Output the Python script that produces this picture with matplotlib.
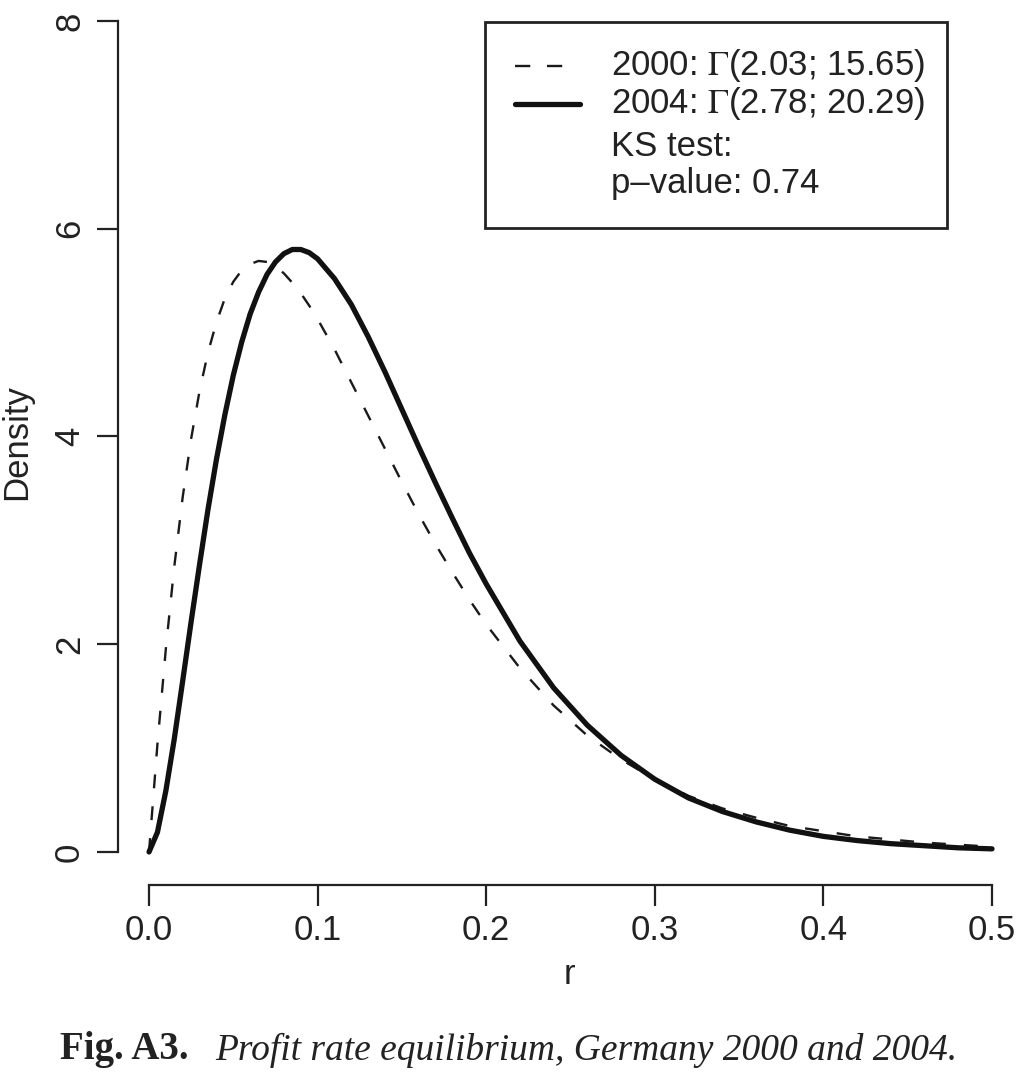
import numpy as np
import matplotlib.pyplot as plt

plt.rcParams['font.family'] = ['Liberation Sans', 'DejaVu Sans']
plt.rcParams['mathtext.fontset'] = 'stix'
plt.rcParams['lines.scale_dashes'] = False

# profit rate grid and densities
r = [0.0, 0.005, 0.01, 0.015, 0.02, 0.025, 0.03, 0.035, 0.04, 0.045, 0.05, 0.055,
     0.06, 0.065, 0.07, 0.075, 0.08, 0.085, 0.09, 0.095, 0.10, 0.11, 0.12, 0.13,
     0.14, 0.15, 0.16, 0.17, 0.18, 0.19, 0.20, 0.22, 0.24, 0.26, 0.28, 0.30,
     0.32, 0.34, 0.36, 0.38, 0.40, 0.42, 0.44, 0.46, 0.48, 0.50]
dens_2000 = [0.0, 1.04, 1.96, 2.75, 3.42, 3.98, 4.44, 4.81, 5.10, 5.33, 5.49, 5.60,
             5.66, 5.69, 5.68, 5.64, 5.57, 5.48, 5.38, 5.26, 5.13, 4.84, 4.52, 4.20,
             3.88, 3.56, 3.25, 2.96, 2.69, 2.43, 2.19, 1.77, 1.41, 1.12, 0.89, 0.70,
             0.54, 0.42, 0.33, 0.25, 0.20, 0.15, 0.12, 0.09, 0.07, 0.05]
dens_2004 = [0.0, 0.19, 0.59, 1.09, 1.65, 2.22, 2.77, 3.30, 3.78, 4.21, 4.59, 4.91,
             5.18, 5.39, 5.56, 5.68, 5.76, 5.80, 5.80, 5.77, 5.71, 5.52, 5.27, 4.96,
             4.62, 4.26, 3.90, 3.55, 3.21, 2.88, 2.58, 2.03, 1.58, 1.22, 0.93, 0.70,
             0.52, 0.39, 0.29, 0.21, 0.15, 0.11, 0.08, 0.06, 0.04, 0.03]

x_ticks = [0.0, 0.1, 0.2, 0.3, 0.4, 0.5]
y_ticks = [0, 2, 4, 6, 8]

fig = plt.figure(figsize=(10.21, 10.8), dpi=100)
ax = fig.add_axes([118/1021, 195/1080, 1 - 118/1021, 885/1080])

ax.plot(r, dens_2000, color='#1a1a1a', lw=1.7, ls=(0, (10, 13)))
ax.plot(r, dens_2004, color='#111111', lw=3.8, solid_capstyle='round',
        solid_joinstyle='round')

ax.set_xlim(-0.0184, 0.5172)
ax.set_ylim(-0.318, 8.202)
for s in ['top', 'right']:
    ax.spines[s].set_visible(False)
ax.spines['left'].set_bounds(0, 8)
ax.spines['bottom'].set_bounds(0, 0.5)
for s in ['left', 'bottom']:
    ax.spines[s].set_linewidth(1.6)
    ax.spines[s].set_color('#222222')

ax.set_xticks(x_ticks)
ax.set_xticklabels([f"{v:.1f}" for v in x_ticks])
ax.set_yticks(y_ticks)
ax.set_yticklabels([str(v) for v in y_ticks], rotation=90, va='center')
ax.tick_params(direction='out', length=15, width=1.6, colors='#222222',
               labelsize=25, pad=6)
ax.tick_params(axis='y', pad=8)

ax.set_xlabel("r", fontsize=25, color='#222222', labelpad=8)
ax.set_ylabel("Density", fontsize=25, color='#222222', labelpad=14)

# legend box drawn by hand, R style
def fx(px):
    return px / 1021
def fy(py):
    return 1 - py / 1080

box = plt.Rectangle((fx(485), fy(228)), fx(947) - fx(485), fy(22) - fy(228),
                    transform=fig.transFigure, fill=False, lw=2.0,
                    edgecolor='#222222')
fig.add_artist(box)
fig.add_artist(plt.Line2D([fx(515), fx(563)], [fy(66), fy(66)], transform=fig.transFigure,
                          color='#1a1a1a', lw=1.7, ls=(0, (11, 12))))
fig.add_artist(plt.Line2D([fx(515), fx(580)], [fy(104), fy(104)], transform=fig.transFigure,
                          color='#111111', lw=3.8, solid_capstyle='round'))
leg_rows = ["2000: $\\Gamma$(2.03; 15.65)", "2004: $\\Gamma$(2.78; 20.29)",
            "KS test:", "p\u2013value: 0.74"]
leg_y = [66, 104, 147, 184]
for txt, yy in zip(leg_rows, leg_y):
    fig.text(fx(611), fy(yy), txt, fontsize=25, color='#222222', va='center', ha='left')

fig.text(fx(60), fy(1050), "Fig. A3.", fontsize=28, fontweight='bold',
         family='Liberation Serif', color='#222222', va='center', ha='left')
fig.text(fx(215), fy(1050), "Profit rate equilibrium, Germany 2000 and 2004.",
         fontsize=27, style='italic', family='Liberation Serif', color='#222222',
         va='center', ha='left')

fig.savefig("out.png", dpi=100)
